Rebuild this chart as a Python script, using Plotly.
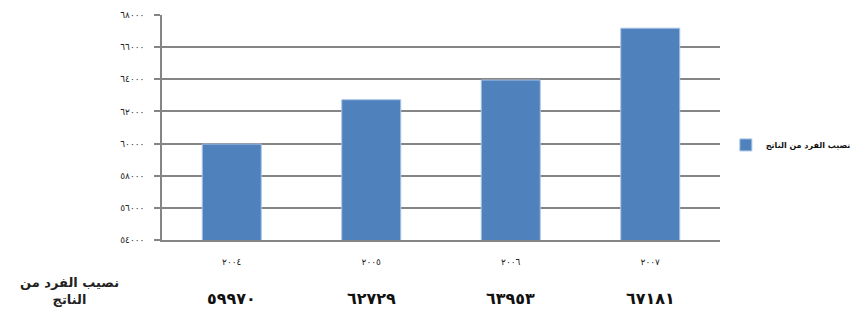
import plotly.graph_objects as go

# Per-capita output by year
years = ["٢٠٠٤", "٢٠٠٥", "٢٠٠٦", "٢٠٠٧"]
per_capita = [59970, 62729, 63953, 67181]
value_labels = ["٥٩٩٧٠", "٦٢٧٢٩", "٦٣٩٥٣", "٦٧١٨١"]
series_name = "نصيب الفرد من الناتج"
row_label = "نصيب الفرد من<br>الناتج"

y_ticks = [54000, 56000, 58000, 60000, 62000, 64000, 66000, 68000]
y_tick_text = ["٥٤٠٠٠", "٥٦٠٠٠", "٥٨٠٠٠", "٦٠٠٠٠", "٦٢٠٠٠", "٦٤٠٠٠", "٦٦٠٠٠", "٦٨٠٠٠"]

FONT = "DejaVu Sans"
BAR = "#4f81bd"
GRID = "#858585"

fig = go.Figure()
fig.add_trace(go.Bar(
    x=years,
    y=per_capita,
    name=series_name,
    marker=dict(color=BAR, line=dict(color="#a9c4e6", width=1)),
    showlegend=True,
))

# Data table row under the category axis
for yr, lab in zip(years, value_labels):
    fig.add_annotation(
        x=yr, xref="x", y=-0.26, yref="paper",
        text=f"<b>{lab}</b>", showarrow=False,
        font=dict(family=FONT, size=16, color="#111"),
        yanchor="middle",
    )
fig.add_annotation(
    x=-0.165, xref="paper", y=-0.228, yref="paper",
    text=f"<b>{row_label}</b>", showarrow=False, align="center",
    font=dict(family=FONT, size=13, color="#222"),
    xanchor="center", yanchor="middle",
)

fig.update_layout(
    width=859, height=322,
    margin=dict(l=162, r=139, t=15, b=82, autoexpand=False),
    paper_bgcolor="white", plot_bgcolor="white",
    bargap=0.577,
    font=dict(family=FONT, color="#222"),
    showlegend=True,
    legend=dict(
        xref="container", yref="container",
        x=0.845, y=0.55, xanchor="left", yanchor="middle",
        font=dict(family=FONT, size=8, color="#111", weight="bold"),
        itemwidth=30, bgcolor="rgba(0,0,0,0)",
    ),
    xaxis=dict(
        showgrid=False, showline=True, linecolor=GRID, linewidth=1.5,
        ticks="", tickfont=dict(size=9, family=FONT, color="#222"),
        ticklabelstandoff=12,
    ),
    yaxis=dict(
        range=[54000, 68000], tickvals=y_ticks, ticktext=y_tick_text,
        showgrid=True, gridcolor=GRID, gridwidth=1.5,
        showline=True, linecolor=GRID, linewidth=1.5,
        ticks="outside", ticklen=6, tickcolor=GRID, tickwidth=1.5,
        tickfont=dict(size=9, family=FONT, color="#222"),
        ticklabelstandoff=8,
        zeroline=False,
    ),
)

fig.write_html("out.html")
